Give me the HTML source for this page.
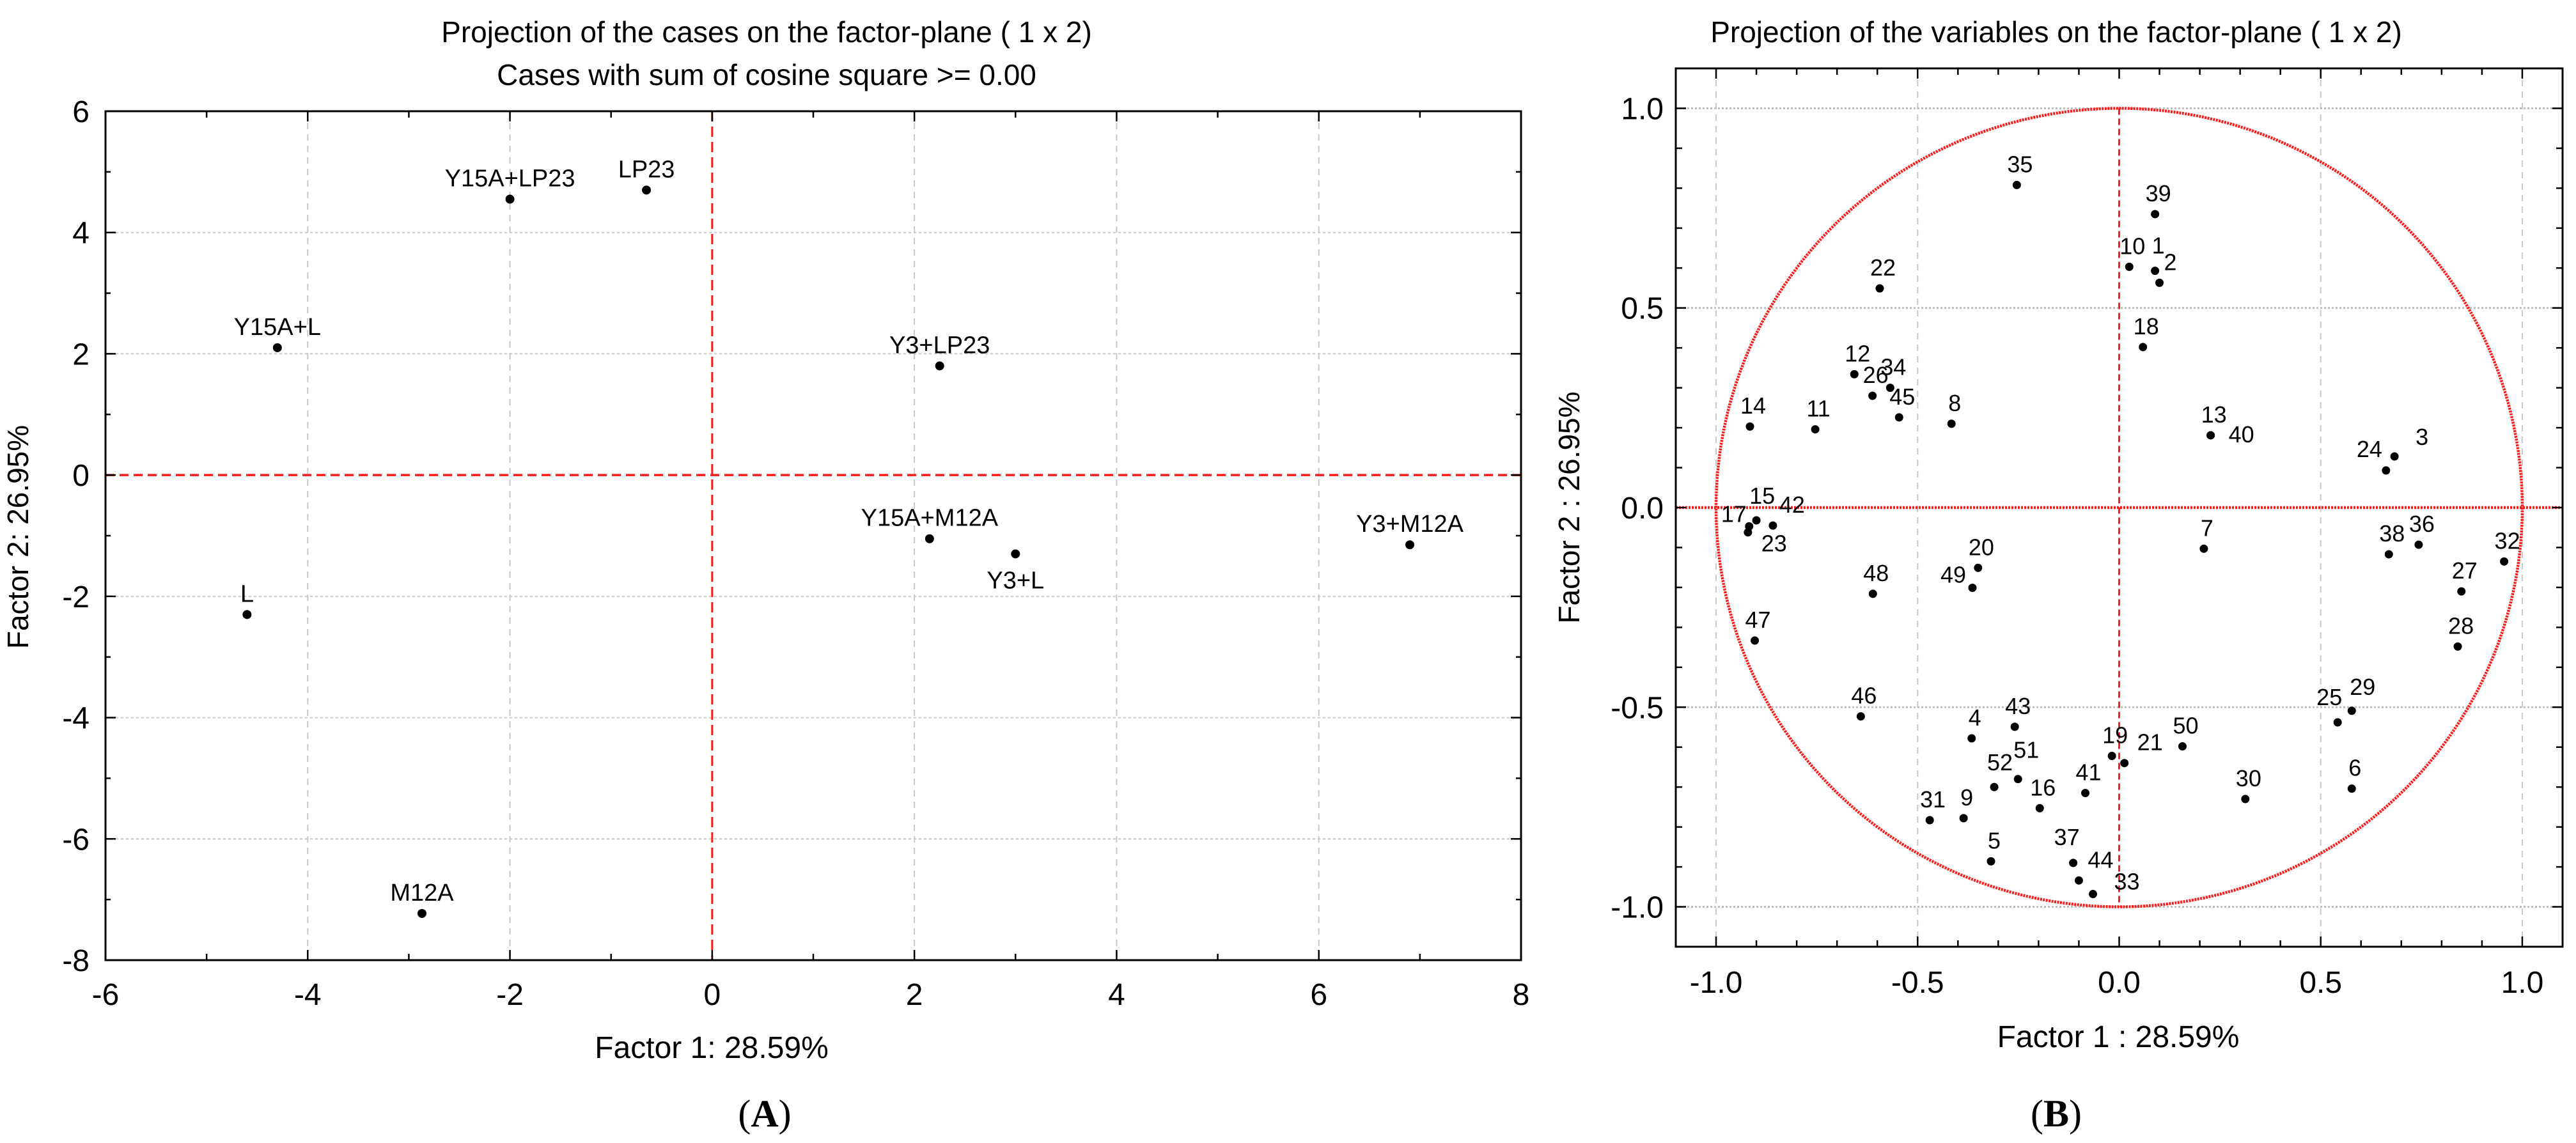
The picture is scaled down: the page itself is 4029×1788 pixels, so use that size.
<!DOCTYPE html>
<html><head><meta charset="utf-8">
<style>
html,body{margin:0;padding:0;background:#fff;}
svg{display:block;font-family:"Liberation Sans",Arial,sans-serif;}
</style></head>
<body>
<svg id="root" width="4029" height="1788" viewBox="0 0 4029 1788" xmlns="http://www.w3.org/2000/svg">
<g id="chartA"></g>
<g id="chartB"></g>
</svg>
<script>
// ---------- Chart A data ----------
const caseNames = ["Y15A+LP23","LP23","Y15A+L","Y3+LP23","Y15A+M12A","Y3+L","Y3+M12A","L","M12A"];
const caseF1 = [-2.0,-0.65,-4.3,2.25,2.15,3.0,6.9,-4.6,-2.87];
const caseF2 = [4.55,4.7,2.1,1.8,-1.05,-1.3,-1.15,-2.3,-7.23];
const aXTicks = [-6,-4,-2,0,2,4,6,8];
const aYTicks = [6,4,2,0,-2,-4,-6,-8];

// ---------- Chart B data ----------
const varNames = ["35","39","10","1","2","22","18","12","34","26","45","8","14","11","13","40","24","3","17","15","23","42","7","38","36","32","20","48","49","27","47","28","46","25","29","43","4","50","19","21","51","52","41","6","30","16","9","31","5","37","44","33"];
const varF1 = [-0.254,0.089,0.025,0.089,0.10,-0.594,0.059,-0.657,-0.568,-0.612,-0.546,-0.416,-0.916,-0.754,0.227,0.227,0.662,0.683,-0.921,-0.90,-0.918,-0.859,0.210,0.669,0.743,0.955,-0.350,-0.611,-0.364,0.849,-0.904,0.84,-0.641,0.542,0.577,-0.259,-0.366,0.157,-0.018,0.013,-0.251,-0.31,-0.084,0.577,0.313,-0.197,-0.386,-0.47,-0.318,-0.114,-0.10,-0.065];
const varF2 = [0.808,0.735,0.603,0.593,0.563,0.549,0.402,0.334,0.30,0.28,0.226,0.21,0.203,0.196,0.181,0.181,0.093,0.128,-0.062,-0.032,-0.047,-0.045,-0.103,-0.117,-0.093,-0.135,-0.151,-0.216,-0.201,-0.21,-0.333,-0.348,-0.523,-0.538,-0.509,-0.549,-0.578,-0.598,-0.622,-0.64,-0.68,-0.70,-0.715,-0.704,-0.73,-0.753,-0.778,-0.783,-0.886,-0.89,-0.934,-0.968];
const bTicks = [-1.0,-0.5,0.0,0.5,1.0];
const bTickLabels = ["-1.0","-0.5","0.0","0.5","1.0"];

// label offsets (styling, px)
const varLabelOff = {"1":[5,-27],"2":[17,-20],"40":[48,11],"24":[-26,-21],"3":[43,-18],"17":[-22,-16],"15":[9,-26],"42":[30,-20],"23":[39,39],"49":[-30,-8],"25":[-13,-27],"29":[17,-25],"21":[40,-20],"51":[13,-33],"52":[9,-26],"37":[-10,-28],"44":[34,-20],"33":[53,-7]};

const NS="http://www.w3.org/2000/svg";
function el(parent,tag,attrs,text){const e=document.createElementNS(NS,tag);for(const k in attrs)e.setAttribute(k,attrs[k]);if(text!==undefined)e.textContent=text;parent.appendChild(e);return e;}

// ===== Chart A =====
(function(){
const g=document.getElementById('chartA');
const L=165,R=2379,T=174,B=1502;
const xs=v=>L+(v+6)/14*(R-L);
const ys=v=>T+(6-v)/14*(B-T);
for(const v of aXTicks){ if(v===-6||v===8||v===0)continue;
  const ln=el(g,'line',{x1:xs(v),x2:xs(v),y1:T,y2:B,stroke:'#c8c8c8','stroke-width':2,'stroke-dasharray':'10,8'});
  }
for(const v of aYTicks){ if(v===6||v===-8||v===0)continue;
  const ln=el(g,'line',{x1:L,x2:R,y1:ys(v),y2:ys(v),stroke:'#c8c8c8','stroke-width':2,'stroke-dasharray':'4,4'});
  }
let z=el(g,'line',{x1:xs(0),x2:xs(0),y1:T,y2:B,stroke:'#ff1a1a','stroke-width':3,'stroke-dasharray':'16,8'});

z=el(g,'line',{x1:L,x2:R,y1:ys(0),y2:ys(0),stroke:'#ff1a1a','stroke-width':3.5,'stroke-dasharray':'14,8'});

const fr=el(g,'rect',{x:L,y:T,width:R-L,height:B-T,fill:'none',stroke:'#000','stroke-width':3});

for(let v=-6;v<=8;v+=1){const x=xs(v);const len=(v%2===0)?16:10;
  el(g,'line',{x1:x,x2:x,y1:T,y2:T+len,stroke:'#000','stroke-width':2.5});
  el(g,'line',{x1:x,x2:x,y1:B,y2:B-len,stroke:'#000','stroke-width':2.5});}
for(let v=-8;v<=6;v+=1){const y=ys(v);const len=(v%2===0)?16:8;
  el(g,'line',{x1:L,x2:L+len,y1:y,y2:y,stroke:'#000','stroke-width':2.5});
  el(g,'line',{x1:R,x2:R-len,y1:y,y2:y,stroke:'#000','stroke-width':2.5});}
for(const v of aXTicks){const t=el(g,'text',{x:xs(v),y:1572,'font-size':48,'text-anchor':'middle'},String(v));
  }
for(const v of aYTicks){const t=el(g,'text',{x:140,y:ys(v)+17,'font-size':48,'text-anchor':'end'},String(v));
  }
let t=el(g,'text',{x:1199,y:66,'font-size':46,'text-anchor':'middle','xml:space':'preserve'},'Projection of the cases on the factor-plane (  1 x  2)');

t=el(g,'text',{x:1199,y:133,'font-size':46,'text-anchor':'middle','xml:space':'preserve'},'Cases with sum of cosine square >=  0.00');

t=el(g,'text',{x:1113,y:1655,'font-size':48,'text-anchor':'middle'},'Factor 1: 28.59%');

t=el(g,'text',{x:0,y:0,'font-size':46,'text-anchor':'middle',transform:'translate(44,840) rotate(-90)'},'Factor 2: 26.95%');

t=el(g,'text',{x:1196,y:1762,'font-size':60,'text-anchor':'middle','font-family':'Liberation Serif, serif'},'');
el(t,'tspan',{},'(');el(t,'tspan',{'font-weight':'bold'},'A');el(t,'tspan',{},')');

caseNames.forEach((n,i)=>{const x=xs(caseF1[i]),y=ys(caseF2[i]);
  const c=el(g,'circle',{cx:x,cy:y,r:7,fill:'#000'});
  
  const dy=(n==='Y3+L')?54:-20;
  const lb=el(g,'text',{x:x,y:y+dy,'font-size':38,'text-anchor':'middle'},n);
  });
})();

// ===== Chart B =====
(function(){
const g=document.getElementById('chartB');
const L=2621,R=4008,T=107,B=1481;
const xs=v=>L+(v+1.1)/2.2*(R-L);
const ys=v=>T+(1.1-v)/2.2*(B-T);
for(const v of bTicks){ if(v===0)continue;
  let ln=el(g,'line',{x1:xs(v),x2:xs(v),y1:T,y2:B,stroke:'#c8c8c8','stroke-width':2,'stroke-dasharray':'10,8'});
  
  ln=el(g,'line',{x1:L,x2:R,y1:ys(v),y2:ys(v),stroke:'#bdbdbd','stroke-width':3,'stroke-dasharray':'3,3'});
  }
let z=el(g,'line',{x1:xs(0),x2:xs(0),y1:ys(1),y2:ys(-1),stroke:'#ff1a1a','stroke-width':3,'stroke-dasharray':'10,6'});

z=el(g,'line',{x1:L,x2:R,y1:ys(0),y2:ys(0),stroke:'#ff1a1a','stroke-width':4.5,'stroke-dasharray':'3,2'});

const circ=el(g,'ellipse',{cx:xs(0),cy:ys(0),rx:xs(1)-xs(0),ry:ys(0)-ys(1),fill:'none',stroke:'#ff1a1a','stroke-width':4.5,'stroke-dasharray':'3,1.5'});

const fr=el(g,'rect',{x:L,y:T,width:R-L,height:B-T,fill:'none',stroke:'#000','stroke-width':3});

for(let k=-11;k<=11;k++){const v=k/10;const len=(k%5===0)?16:10;
  const x=xs(v),y=ys(v);
  el(g,'line',{x1:x,x2:x,y1:T,y2:T+len,stroke:'#000','stroke-width':2.5});
  el(g,'line',{x1:x,x2:x,y1:B,y2:B-len,stroke:'#000','stroke-width':2.5});
  el(g,'line',{x1:L,x2:L+len,y1:y,y2:y,stroke:'#000','stroke-width':2.5});
  el(g,'line',{x1:R,x2:R-len,y1:y,y2:y,stroke:'#000','stroke-width':2.5});}
bTicks.forEach((v,i)=>{
  let t=el(g,'text',{x:xs(v),y:1553,'font-size':48,'text-anchor':'middle'},bTickLabels[i]);
  
  t=el(g,'text',{x:2602,y:ys(v)+17,'font-size':48,'text-anchor':'end'},bTickLabels[i]);
  });
let t=el(g,'text',{x:3216,y:66,'font-size':46,'text-anchor':'middle','xml:space':'preserve'},'Projection of the variables on the factor-plane (  1 x  2)');

t=el(g,'text',{x:3313,y:1638,'font-size':48,'text-anchor':'middle'},'Factor 1 : 28.59%');

t=el(g,'text',{x:0,y:0,'font-size':46,'text-anchor':'middle',transform:'translate(2470,794) rotate(-90)'},'Factor 2 : 26.95%');

t=el(g,'text',{x:3216,y:1762,'font-size':60,'text-anchor':'middle','font-family':'Liberation Serif, serif'},'');
el(t,'tspan',{},'(');el(t,'tspan',{'font-weight':'bold'},'B');el(t,'tspan',{},')');

varNames.forEach((n,i)=>{const x=xs(varF1[i]),y=ys(varF2[i]);
  const c=el(g,'circle',{cx:x,cy:y,r:6.5,fill:'#000'});
  
  const off=varLabelOff[n]||[5,-20];
  const lb=el(g,'text',{x:x+off[0],y:y+off[1],'font-size':36,'text-anchor':'middle'},n);
  });
})();
</script>
</body></html>
